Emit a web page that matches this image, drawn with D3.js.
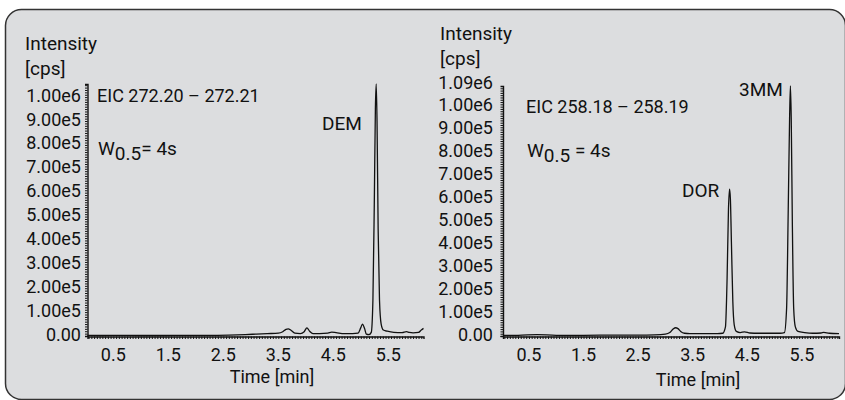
<!DOCTYPE html>
<html>
<head>
<meta charset="utf-8">
<script src="https://cdn.jsdelivr.net/npm/d3@7"></script>
<style>
  body { margin: 0; background: #fff; }
  text { font-family: Roboto, "Liberation Sans", Arial, sans-serif; fill: #111; }
</style>
</head>
<body>
<div id="chart"></div>
<script>
// time in minutes, intensity in cps
const leftTime = [0.03, 0.3, 0.6, 1.0, 1.4, 1.8, 2.2, 2.6, 2.9, 3.1, 3.3, 3.5, 3.58, 3.64, 3.68, 3.73, 3.8, 3.9, 3.97, 4.02, 4.07, 4.13, 4.25, 4.4, 4.47, 4.55, 4.7, 4.85, 4.95, 5.0, 5.03, 5.07, 5.1, 5.15, 5.19, 5.22, 5.245, 5.265, 5.28, 5.295, 5.315, 5.34, 5.37, 5.41, 5.48, 5.6, 5.75, 5.83, 5.88, 5.95, 6.05, 6.1, 6.14];
const leftIntensity = [3e3, 2e3, 3e3, 2e3, 2e3, 3e3, 3e3, 4e3, 6e3, 8e3, 1.0e4, 1.2e4, 1.8e4, 2.8e4, 3.0e4, 2.4e4, 1.2e4, 1.0e4, 1.8e4, 3.4e4, 2.0e4, 1.0e4, 1.0e4, 1.2e4, 1.6e4, 1.4e4, 1.0e4, 1.0e4, 1.2e4, 3.5e4, 5.0e4, 3.0e4, 8e3, 6e3, 1.5e4, 1.5e5, 5.5e5, 9.5e5, 1.055e6, 9.0e5, 4.5e5, 1.5e5, 5e4, 2.5e4, 2.0e4, 1.5e4, 1.4e4, 1.8e4, 1.5e4, 1.3e4, 1.5e4, 2.5e4, 3.2e4];

const rightTime = [0.025, 0.3, 0.65, 1.0, 1.5, 2.0, 2.5, 2.8, 3.0, 3.08, 3.14, 3.19, 3.23, 3.28, 3.35, 3.45, 3.6, 3.8, 3.95, 4.05, 4.1, 4.13, 4.155, 4.175, 4.19, 4.21, 4.235, 4.26, 4.3, 4.37, 4.45, 4.55, 4.7, 4.9, 5.1, 5.18, 5.22, 5.25, 5.275, 5.29, 5.305, 5.325, 5.35, 5.38, 5.43, 5.55, 5.7, 5.85, 5.9, 6.0, 6.18];
const rightIntensity = [3e3, 3e3, 6e3, 3e3, 3e3, 4e3, 4e3, 5e3, 8e3, 1.5e4, 3.0e4, 3.6e4, 3.2e4, 2.0e4, 1.2e4, 1.0e4, 1.0e4, 1.0e4, 1.0e4, 1.2e4, 4e4, 2.5e5, 5.5e5, 6.4e5, 6.0e5, 4.0e5, 1.5e5, 5e4, 2.0e4, 1.5e4, 1.8e4, 1.3e4, 1.2e4, 1.2e4, 1.2e4, 1.5e4, 1.2e5, 5.5e5, 9.5e5, 1.09e6, 9.5e5, 5.0e5, 1.2e5, 4e4, 2.0e4, 1.5e4, 1.2e4, 1.3e4, 1.6e4, 1.2e4, 1.0e4];

const xTicks = [0.5, 1.5, 2.5, 3.5, 4.5, 5.5];
const leftYTicks = [0, 1e5, 2e5, 3e5, 4e5, 5e5, 6e5, 7e5, 8e5, 9e5, 1e6];
const leftYLabels = ["0.00", "1.00e5", "2.00e5", "3.00e5", "4.00e5", "5.00e5", "6.00e5", "7.00e5", "8.00e5", "9.00e5", "1.00e6"];
const rightYTicks = [0, 1e5, 2e5, 3e5, 4e5, 5e5, 6e5, 7e5, 8e5, 9e5, 1e6, 1.09e6];
const rightYLabels = ["0.00", "1.00e5", "2.00e5", "3.00e5", "4.00e5", "5.00e5", "6.00e5", "7.00e5", "8.00e5", "9.00e5", "1.00e6", "1.09e6"];

const W = 845, H = 400;
const svg = d3.select("#chart").append("svg")
    .attr("width", W).attr("height", H);

// grey frame with rounded corners, bottom edge runs off the picture
svg.append("rect")
    .attr("x", 5.5).attr("y", 9.5)
    .attr("width", 840).attr("height", 390)
    .attr("rx", 16).attr("ry", 16)
    .attr("fill", "#dcdddf")
    .attr("stroke", "#333").attr("stroke-width", 1.5);

function panel(o) {
    const x = d3.scaleLinear().domain(o.xDomain).range(o.xRange);
    const y = d3.scaleLinear().domain(o.yDomain).range([336, o.yTop]);
    const g = svg.append("g");

    // x axis: dense minor ticks under a solid line
    g.append("g")
        .attr("transform", "translate(0,336.5)")
        .call(d3.axisBottom(x).tickValues(d3.range(0.05, o.xDomain[1], 0.05)).tickSize(2.5).tickFormat(""))
        .call(a => a.selectAll("line").attr("stroke", "#111").attr("stroke-width", 1))
        .call(a => a.select(".domain").attr("stroke", "#111").attr("stroke-width", 1.4));
    g.selectAll(".xlab").data(xTicks).join("text")
        .attr("x", d => x(d)).attr("y", 361)
        .attr("text-anchor", "middle").attr("font-size", 18)
        .text(d => d.toFixed(1));

    // y axis
    g.append("g")
        .attr("transform", `translate(${x(o.xDomain[0])},0)`)
        .call(d3.axisLeft(y).tickValues(d3.range(0, o.yDomain[1], 1e4)).tickSize(2.5).tickFormat(""))
        .call(a => a.selectAll("line").attr("stroke", "#111").attr("stroke-width", 1))
        .call(a => a.select(".domain").attr("stroke", "#111").attr("stroke-width", 1.4));
    g.selectAll(".ylab").data(o.yTicks).join("text")
        .attr("x", o.labelRight)
        .attr("y", (d, i) => y(d) + 4.5 - (i === 11 ? 1.5 : 0))
        .attr("text-anchor", "end").attr("font-size", 18)
        .text((d, i) => o.yLabels[i]);

    // trace
    const pts = o.time.map((t, i) => [t, o.intensity[i]]);
    g.append("path")
        .datum(pts)
        .attr("fill", "none")
        .attr("stroke", "#111")
        .attr("stroke-width", 1.3)
        .attr("d", d3.line().x(d => x(d[0])).y(d => y(d[1])).curve(d3.curveMonotoneX));

    // titles and annotations
    g.append("text").attr("x", o.titleX).attr("y", o.intensityY).attr("font-size", 19).text("Intensity");
    g.append("text").attr("x", o.titleX).attr("y", o.intensityY + 25).attr("font-size", 19).text("[cps]");
    g.append("text").attr("x", o.eicX).attr("y", o.eicY).attr("font-size", 18).text(o.eic);
    const w = g.append("text").attr("x", o.eicX + 1).attr("y", o.wY).attr("font-size", 19);
    w.append("tspan").text("W");
    w.append("tspan").attr("dy", 5).text("0.5");
    w.append("tspan").attr("dy", -5).text(o.wGap + "= 4s");
    g.append("text").attr("x", o.timeX).attr("y", o.timeY)
        .attr("text-anchor", "middle").attr("font-size", 18).text("Time [min]");
    o.peaks.forEach(p => {
        g.append("text").attr("x", p.x).attr("y", p.y).attr("font-size", 19).text(p.name);
    });
}

panel({
    time: leftTime, intensity: leftIntensity,
    xDomain: [0.03, 6.14], xRange: [87.5, 423.5],
    yDomain: [0, 1.055e6], yTop: 84,
    yTicks: leftYTicks, yLabels: leftYLabels, labelRight: 81,
    titleX: 25, intensityY: 50,
    eic: "EIC 272.20 \u2013 272.21", eicX: 97, eicY: 102, wY: 155, wGap: "",
    timeX: 272, timeY: 383,
    peaks: [{name: "DEM", x: 322, y: 130}]
});

panel({
    time: rightTime, intensity: rightIntensity,
    xDomain: [0.025, 6.18], xRange: [503, 839],
    yDomain: [0, 1.09e6], yTop: 86,
    yTicks: rightYTicks, yLabels: rightYLabels, labelRight: 493,
    titleX: 440, intensityY: 40,
    eic: "EIC 258.18 \u2013 258.19", eicX: 526, eicY: 113, wY: 157, wGap: " ",
    timeX: 698, timeY: 386,
    peaks: [{name: "DOR", x: 682, y: 197}, {name: "3MM", x: 739, y: 96}]
});
</script>
</body>
</html>
